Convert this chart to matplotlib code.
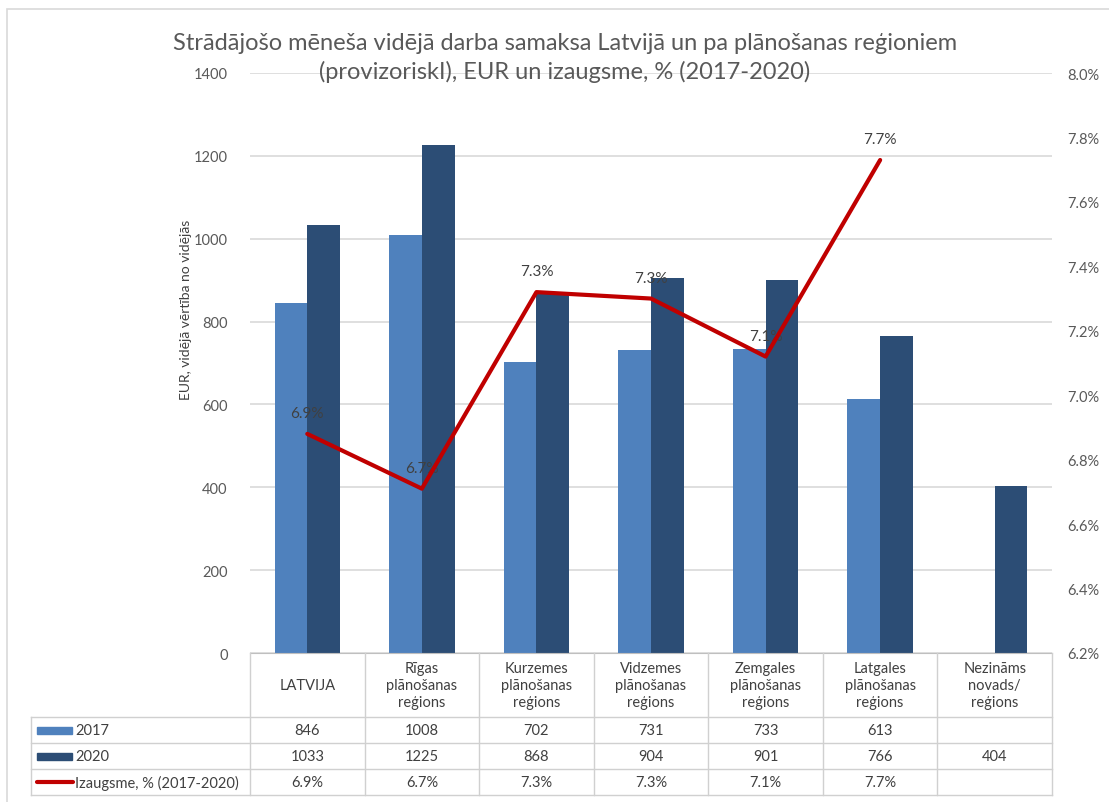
import numpy as np
import matplotlib
matplotlib.use('Agg')
import matplotlib.pyplot as plt
from matplotlib.patches import Rectangle
from matplotlib.lines import Line2D
import matplotlib.transforms as mtransforms

plt.rcParams['font.family'] = ['Lato', 'DejaVu Sans']

categories = ['LATVIJA', 'Rīgas\nplānošanas\nreģions', 'Kurzemes\nplānošanas\nreģions',
              'Vidzemes\nplānošanas\nreģions', 'Zemgales\nplānošanas\nreģions',
              'Latgales\nplānošanas\nreģions', 'Nezināms\nnovads/\nreģions']
val_2017 = [846, 1008, 702, 731, 733, 613, None]
val_2020 = [1033, 1225, 868, 904, 901, 766, 404]
growth = [6.88, 6.71, 7.32, 7.30, 7.12, 7.73, None]
growth_labels = ['6.9%', '6.7%', '7.3%', '7.3%', '7.1%', '7.7%', '']
series_names = ['2017', '2020', 'Izaugsme, % (2017-2020)']

c17 = '#4F81BD'
c20 = '#2C4D75'
cred = '#C00000'
grid_c = '#D9D9D9'
txt_c = '#595959'

W, H = 1109, 803
fig = plt.figure(figsize=(W / 100, H / 100), dpi=100)

def fx(px):
    return px / W

def fy(py):
    return 1 - py / H

# outer frame
fig.patches.append(Rectangle((fx(7), fy(823)), fx(1200), fy(10) - fy(823),
                             transform=fig.transFigure, fill=False, ec='#D9D9D9', lw=1.2))

left, right, top, bottom = 250, 1052, 74, 654
ax = fig.add_axes([fx(left), fy(bottom), fx(right - left), fy(top) - fy(bottom)])
ax2 = ax.twinx()

x = np.arange(len(categories))
bw = 0.285
h17 = [v if v is not None else 0 for v in val_2017]
ax.bar(x[:6] - bw / 2, h17[:6], bw, color=c17, zorder=2)
ax.bar(x + bw / 2, val_2020, bw, color=c20, zorder=2)

ax.set_xlim(-0.5, len(categories) - 0.5)
ax.set_ylim(0, 1400)
ax.set_yticks(range(0, 1401, 200))
ax.yaxis.grid(True, color=grid_c, lw=1.2)
ax.set_axisbelow(True)
ax.set_xticks([])
for s in ['top', 'left', 'right']:
    ax.spines[s].set_visible(False)
ax.spines['bottom'].set_color('#BFBFBF')
ax.tick_params(axis='y', length=0, labelsize=10.5, labelcolor=txt_c, pad=16)
fig.text(fx(186), fy(310), 'EUR, vidējā vērtība no vidējās', rotation=90, ha='center', va='center',
         fontsize=10, color='#404040')

gx = [xi for xi, g in zip(x, growth) if g is not None]
gy = [g for g in growth if g is not None]
ax2.plot(gx, gy, color=cred, lw=3, solid_capstyle='round', zorder=5)
for xi, g, lab in zip(x, growth, growth_labels):
    if g is not None:
        ax2.annotate(lab, (xi, g), xytext=(0, 10), textcoords='offset points',
                     ha='center', va='bottom', fontsize=11, color='#404040')
ax2.set_ylim(6.2, 8.0)
ax2.set_yticks(np.arange(6.2, 8.01, 0.2))
ax2.set_yticklabels([f'{v:.1f}%' for v in np.arange(6.2, 8.01, 0.2)])
ax2.tick_params(axis='y', length=0, labelsize=10.5, labelcolor=txt_c, pad=11)
for s in ['top', 'left', 'right', 'bottom']:
    ax2.spines[s].set_visible(False)

# title
fig.text(fx(565), fy(43), 'Strādājošo mēneša vidējā darba samaksa Latvijā un pa plānošanas reģioniem',
         ha='center', va='center', fontsize=17, color='#595959')
fig.text(fx(565), fy(72), '(provizoriskI), EUR un izaugsme, % (2017-2020)',
         ha='center', va='center', fontsize=17, color='#595959')

# data table
trans = mtransforms.blended_transform_factory(ax.transData, fig.transFigure)
row_y = [654, 718, 744, 770, 796]
line_kw = dict(color='#D0D0D0', lw=1)
for i in range(len(categories) + 1):
    fig.add_artist(Line2D([i - 0.5, i - 0.5], [fy(row_y[0]), fy(row_y[-1])], transform=trans, **line_kw))
for ry in row_y[1:]:
    fig.add_artist(Line2D([fx(31), fx(right)], [fy(ry), fy(ry)], transform=fig.transFigure, **line_kw))
fig.add_artist(Line2D([fx(31), fx(31)], [fy(row_y[1]), fy(row_y[-1])], transform=fig.transFigure, **line_kw))

tfs = 10.5
for i, cat in enumerate(categories):
    fig.text(i, fy((row_y[0] + row_y[1]) / 2), cat, transform=trans, ha='center', va='center',
             fontsize=tfs, color='#404040', linespacing=1.3)
rows = [
    [str(v) if v is not None else '' for v in val_2017],
    [str(v) if v is not None else '' for v in val_2020],
    growth_labels,
]
for r, row in enumerate(rows):
    yc = fy((row_y[r + 1] + row_y[r + 2]) / 2)
    for i, t in enumerate(row):
        fig.text(i, yc, t, transform=trans, ha='center', va='center', fontsize=tfs, color='#404040')
    fig.text(fx(75), yc, series_names[r], ha='left', va='center', fontsize=tfs, color='#404040')

fig.patches.append(Rectangle((fx(37), fy(735)), fx(35), fy(728) - fy(735), transform=fig.transFigure, color=c17))
fig.patches.append(Rectangle((fx(37), fy(761)), fx(35), fy(754) - fy(761), transform=fig.transFigure, color=c20))
fig.add_artist(Line2D([fx(37), fx(73)], [fy(783), fy(783)], transform=fig.transFigure, color=cred, lw=3,
                      solid_capstyle='round'))

fig.savefig('out.png', dpi=100)
